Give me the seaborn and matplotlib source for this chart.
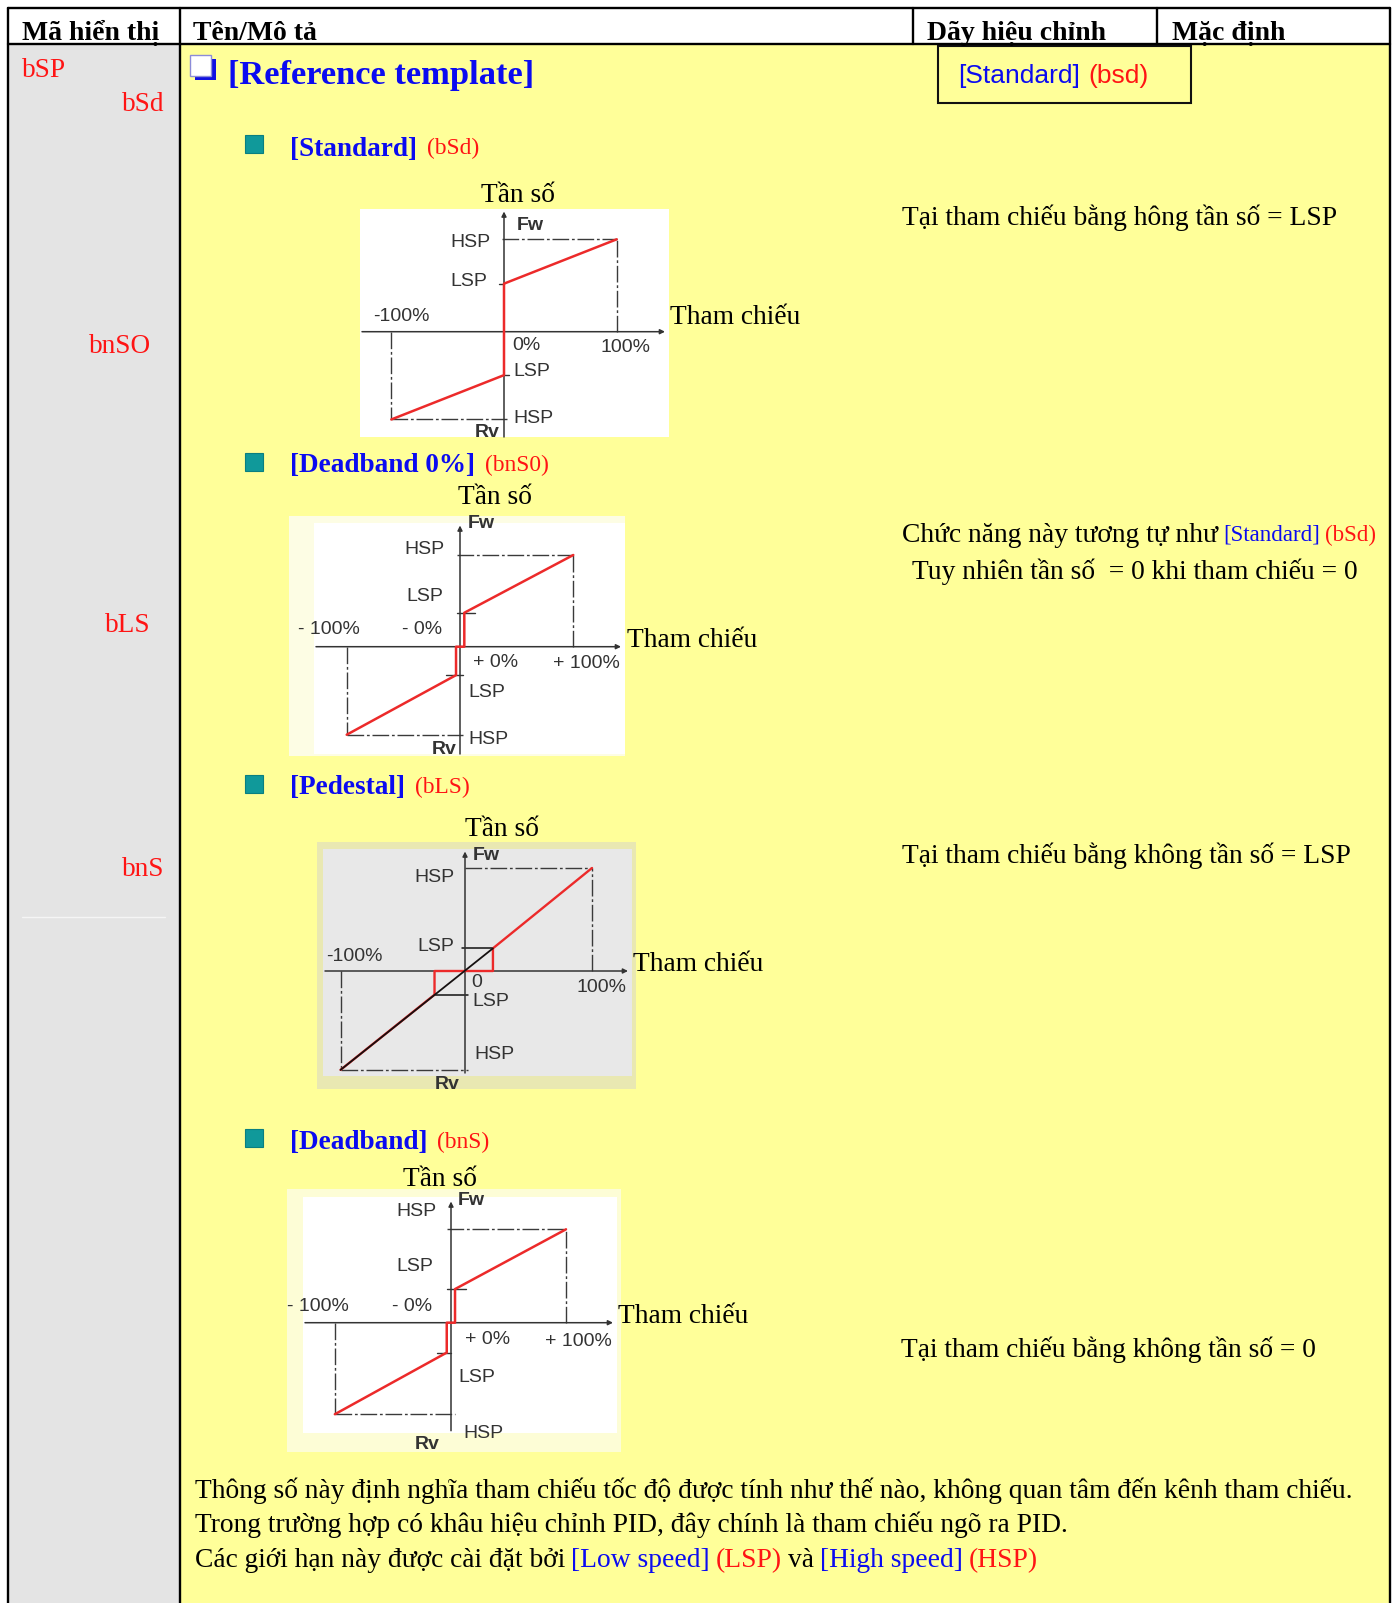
import matplotlib
matplotlib.use("Agg")
import matplotlib.pyplot as plt
from matplotlib.patches import Rectangle
import seaborn as sns

W, H = 1392, 1603

# curves: reference (%) -> frequency (% of HSP)
std_ref = [-100, 0, 0, 100]
std_freq = [-95, -47, 52, 100]
db0_ref = [-100, -3.5, -3.5, 3.8, 3.8, 100]
db0_freq = [-96, -31, 0, 0, 37, 100]
ped_ref = [-98, -24, -24, 22, 22, 100]
ped_freq = [-96, -23, 0, 0, 22, 100]
ped_lin_ref = [-98, 22]
ped_lin_freq = [-96, 22]
db_ref = [-101, -3.7, -3.7, 3.5, 3.5, 100]
db_freq = [-98, -32, 0, 0, 36, 100]

header_labels = ["Mã hiển thị", "Tên/Mô tả", "Dãy hiệu chỉnh", "Mặc định"]
codes = ["bSP", "bSd", "bnSO", "bLS", "bnS"]
sections = [("[Standard]", "(bSd)"), ("[Deadband 0%]", "(bnS0)"),
            ("[Pedestal]", "(bLS)"), ("[Deadband]", "(bnS)")]
notes = ["Tại tham chiếu bằng hông tần số = LSP",
         "Chức năng này tương tự như",
         "Tuy nhiên tần số  = 0 khi tham chiếu = 0",
         "Tại tham chiếu bằng không tần số = LSP",
         "Tại tham chiếu bằng không tần số = 0"]
footer = ["Thông số này định nghĩa tham chiếu tốc độ được tính như thế nào, không quan tâm đến kênh tham chiếu.",
          "Trong trường hợp có khâu hiệu chỉnh PID, đây chính là tham chiếu ngõ ra PID.",
          "Các giới hạn này được cài đặt bởi"]

SERIF = "Liberation Serif"
SANS = "Liberation Sans"
BLUE = "#0b0bf0"
RED = "#ff1414"
GREY = "#333333"
CURVE = "#ec2a2a"
BODY = 19.8

sns.set_theme(style="white")
plt.rcParams["font.family"] = [SERIF, "DejaVu Serif"]

fig = plt.figure(figsize=(W / 100, H / 100), dpi=100)
ax = fig.add_axes([0, 0, 1, 1])
ax.set_xlim(0, W)
ax.set_ylim(H, 0)
ax.axis("off")
rend = fig.canvas.get_renderer()


def txt(x, yc, s, size, color="black", family=SERIF, weight="normal", ha="left", on=None):
    cap = 0.662 if family == SERIF else 0.716
    yb = yc + cap * size * 100 / 72 / 2
    target = on if on is not None else ax
    return target.text(x, yb, s, fontsize=size, color=color, family=family,
                       fontweight=weight, ha=ha, va="baseline",
                       transform=ax.transData, clip_on=False, zorder=6)


def runs(x, yc, parts, family=SERIF):
    # parts: (text, color, size, weight, gap after in px)
    for s, color, size, weight, gap in parts:
        t = txt(x, yc, s, size, color=color, family=family, weight=weight)
        x += t.get_window_extent(renderer=rend).width + gap


# table background and rules
ax.add_patch(Rectangle((7.5, 44.3), 172, H, fc="#e4e4e4", ec="none"))
ax.add_patch(Rectangle((179.5, 44.3), 1211, H, fc="#ffff99", ec="none"))
lw_tab = 1.7
ax.plot([7.5, 1390], [7.5, 7.5], color="black", lw=lw_tab)
ax.plot([7.5, 1390], [44.3, 44.3], color="black", lw=lw_tab)
ax.plot([7.5, 7.5], [7.5, H], color="black", lw=lw_tab)
ax.plot([179.5, 179.5], [7.5, H], color="black", lw=lw_tab)
ax.plot([1390, 1390], [7.5, H], color="black", lw=lw_tab)
for xs in (912.7, 1156.7):
    ax.plot([xs, xs], [7.5, 44.3], color="black", lw=lw_tab)
ax.plot([22, 165], [917.3, 917.3], color="#f5f5f5", lw=1)

for lab, xh in zip(header_labels, [22.3, 193, 926.7, 1171.7]):
    txt(xh, 30.5, lab, 20, weight="bold")

# codes in the first column
txt(22.3, 67.5, codes[0], 19.6, color=RED)
for code, xr, yc in zip(codes[1:], [164, 151, 151, 164], [102, 344, 623, 867]):
    txt(xr, yc, code, 19.6, color=RED, ha="right")

# title with checkbox glyph
ax.add_patch(Rectangle((194.5, 59), 21.5, 21, fc="#1010e0", ec="none"))
ax.add_patch(Rectangle((190, 55), 21, 21, fc="white", ec="#8c8cd8", lw=1))
txt(227.7, 73, "[Reference template]", 24.8, color=BLUE, weight="bold")

# default value box
ax.add_patch(Rectangle((937.7, 46), 253.3, 56.7, fc="none", ec="#111111", lw=1.5))
runs(958.3, 73.3, [("[Standard]", BLUE, 19, "normal", 8.5),
                   ("(bsd)", RED, 19, "normal", 0)], family=SANS)

# section headings with teal bullets
for (name, code), yc, ytop in zip(sections, [146.7, 463, 785, 1140], [135, 453, 775, 1129]):
    ax.add_patch(Rectangle((244.5, ytop), 18.5, 18, fc="#10999a", ec="#0a7f80", lw=0.8))
    runs(290, yc, [(name, BLUE, 19.6, "bold", 9.5), (code, RED, 16.8, "normal", 0)])

# notes on the right
txt(902, 216, notes[0], BODY)
runs(901.7, 533, [(notes[1], "black", BODY, "normal", 6),
                  ("[Standard]", BLUE, 16.6, "normal", 5),
                  ("(bSd)", RED, 16.6, "normal", 0)])
txt(911.7, 570, notes[2], BODY)
txt(902, 854, notes[3], BODY)
txt(901, 1348, notes[4], BODY)

# footer
txt(195, 1489, footer[0], BODY)
txt(195, 1523, footer[1], BODY)
runs(195, 1558, [(footer[2], "black", BODY, "normal", 6),
                 ("[Low speed]", BLUE, BODY, "normal", 6),
                 ("(LSP)", RED, BODY, "normal", 6),
                 ("và", "black", BODY, "normal", 6),
                 ("[High speed]", BLUE, BODY, "normal", 6),
                 ("(HSP)", RED, BODY, "normal", 0)])

DASH = (0, (12, 2, 2, 2))


def diagram(box, origin, sx, sy, face, outer=None, outer_face=None):
    L, T, Rr, B = box
    ox, oy = origin
    if outer is not None:
        ax.add_patch(Rectangle((outer[0], outer[1]), outer[2] - outer[0], outer[3] - outer[1],
                               fc=outer_face, ec="none"))
    d = fig.add_axes([L / W, 1 - B / H, (Rr - L) / W, (B - T) / H])
    d.set_facecolor(face)
    lims = ((L - ox) / sx, (Rr - ox) / sx, (oy - B) / sy, (oy - T) / sy)
    return d, lims, sx, sy


def finish(d, lims, sx, sy, ytop_px=2.5, ybot_px=0.0):
    x0, x1, y0, y1 = lims
    d.set_xlim(x0, x1)
    d.set_ylim(y0, y1)
    d.set_xticks([])
    d.set_yticks([])
    d.set_xlabel("")
    d.set_ylabel("")
    for sp in d.spines.values():
        sp.set_visible(False)
    arrow = dict(arrowstyle="-|>", color=GREY, lw=1.1, mutation_scale=7, shrinkA=0, shrinkB=0)
    d.annotate("", xy=(x1 - 4 / sx, 0), xytext=(x0 + 2 / sx, 0), arrowprops=arrow, zorder=3)
    d.annotate("", xy=(0, y1 - ytop_px / sy), xytext=(0, y0 + ybot_px / sy), arrowprops=arrow, zorder=3)


def guides(d, ref, freq, top_start, bot_end):
    kw = dict(color="#3a3a3a", lw=1.0, ls=DASH, zorder=2)
    d.plot([top_start, ref[-1]], [freq[-1], freq[-1]], **kw)
    d.plot([ref[-1], ref[-1]], [0, freq[-1]], **kw)
    d.plot([ref[0], ref[0]], [0, freq[0]], **kw)
    d.plot([ref[0], bot_end], [freq[0], freq[0]], **kw)


def curve(d, ref, freq, color=CURVE, lw=1.8):
    sns.lineplot(x=ref, y=freq, ax=d, color=color, lw=lw, sort=False,
                 estimator=None, legend=False, zorder=4)


def labels(d, items):
    for x, yc, s, ha, wt in items:
        txt(x, yc, s, 14, color=GREY, family=SANS, weight=wt, ha=ha, on=d)


# ---- Standard (bSd)
d1, lim1, sx1, sy1 = diagram((360, 209, 669, 437), (504, 331.7), 1.127, 0.924, "white")
guides(d1, std_ref, std_freq, -2, 3)
d1.plot([-4, 0], [std_freq[2], std_freq[2]], color=GREY, lw=1)
d1.plot([0, 4], [std_freq[1], std_freq[1]], color=GREY, lw=1)
curve(d1, std_ref, std_freq)
finish(d1, lim1, sx1, sy1)
labels(d1, [(517, 223, "Fw", "left", "bold"), (490, 240, "HSP", "right", "normal"),
            (487, 279, "LSP", "right", "normal"), (373, 314, "-100%", "left", "normal"),
            (512, 343, "0%", "left", "normal"), (600, 345, "100%", "left", "normal"),
            (513, 369, "LSP", "left", "normal"), (513, 416, "HSP", "left", "normal"),
            (475, 430, "Rv", "left", "bold")])
txt(518, 193, "Tần số", BODY, ha="center", on=d1)
txt(670, 315, "Tham chiếu", BODY, on=d1)

# ---- Deadband 0% (bnS0)
d2, lim2, sx2, sy2 = diagram((314, 523, 625, 754), (460, 646.7), 1.133, 0.917, "white",
                             outer=(289, 516, 625, 756), outer_face="#fdfde4")
guides(d2, db0_ref, db0_freq, -3, 3)
d2.plot([-3, 13], [db0_freq[4], db0_freq[4]], color=GREY, lw=1)
d2.plot([-12, 3], [db0_freq[1], db0_freq[1]], color=GREY, lw=1)
curve(d2, db0_ref, db0_freq)
finish(d2, lim2, sx2, sy2)
labels(d2, [(468, 521, "Fw", "left", "bold"), (444, 547, "HSP", "right", "normal"),
            (443, 594, "LSP", "right", "normal"), (298, 627, "- 100%", "left", "normal"),
            (402, 627, "- 0%", "left", "normal"), (473, 660, "+ 0%", "left", "normal"),
            (553, 661, "+ 100%", "left", "normal"), (468, 690, "LSP", "left", "normal"),
            (468, 737, "HSP", "left", "normal"), (432, 747, "Rv", "left", "bold")])
txt(495, 495, "Tần số", BODY, ha="center", on=d2)
txt(627, 638, "Tham chiếu", BODY, on=d2)

# ---- Pedestal (bLS)
d3, lim3, sx3, sy3 = diagram((323, 849, 632, 1076), (465, 971), 1.27, 1.03, "#e8e8e8",
                             outer=(317, 842, 636, 1089), outer_face="#e9e8b2")
guides(d3, ped_ref, ped_freq, 0, 2.6)
d3.plot([-2.6, ped_ref[3]], [ped_freq[4], ped_freq[4]], color="#111111", lw=1.1, zorder=3)
d3.plot([ped_ref[1], 2.6], [ped_freq[1], ped_freq[1]], color="#111111", lw=1.1, zorder=3)
curve(d3, ped_ref, ped_freq, lw=1.7)
sns.lineplot(x=ped_lin_ref, y=ped_lin_freq, ax=d3, color="#151010", lw=1.3,
             sort=False, estimator=None, legend=False, zorder=5)
finish(d3, lim3, sx3, sy3, ytop_px=2.5, ybot_px=3)
labels(d3, [(473, 853, "Fw", "left", "bold"), (454, 875, "HSP", "right", "normal"),
            (454, 944, "LSP", "right", "normal"), (326, 954, "-100%", "left", "normal"),
            (471, 980, "0", "left", "normal"), (577, 985, "100%", "left", "normal"),
            (472, 999, "LSP", "left", "normal"), (474, 1052, "HSP", "left", "normal"),
            (435, 1082, "Rv", "left", "bold")])
txt(502, 827, "Tần số", BODY, ha="center", on=d3)
txt(633, 962, "Tham chiếu", BODY, on=d3)

# ---- Deadband (bnS)
d4, lim4, sx4, sy4 = diagram((303, 1197, 617, 1433), (451, 1322.7), 1.15, 0.934, "white",
                             outer=(287, 1189, 621, 1452), outer_face="#fdfdd6")
guides(d4, db_ref, db_freq, -3.7, 3.5)
d4.plot([-3.7, 13], [db_freq[4], db_freq[4]], color=GREY, lw=1)
d4.plot([-12.4, 0], [db_freq[1], db_freq[1]], color=GREY, lw=1)
curve(d4, db_ref, db_freq)
finish(d4, lim4, sx4, sy4, ytop_px=4.5, ybot_px=2.3)
labels(d4, [(458, 1198, "Fw", "left", "bold"), (436, 1209, "HSP", "right", "normal"),
            (433, 1264, "LSP", "right", "normal"), (287, 1304, "- 100%", "left", "normal"),
            (392, 1304, "- 0%", "left", "normal"), (465, 1337, "+ 0%", "left", "normal"),
            (545, 1339, "+ 100%", "left", "normal"), (458, 1375, "LSP", "left", "normal"),
            (463, 1431, "HSP", "left", "normal"), (415, 1442, "Rv", "left", "bold")])
txt(440, 1176.5, "Tần số", BODY, ha="center", on=d4)
txt(618, 1314, "Tham chiếu", BODY, on=d4)

fig.savefig("out.png", dpi=100)
